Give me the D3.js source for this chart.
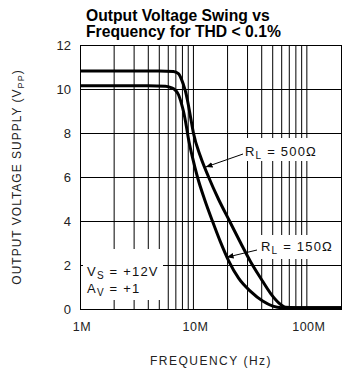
<!DOCTYPE html>
<html>
<head>
<meta charset="utf-8">
<script src="https://cdn.jsdelivr.net/npm/d3@7"></script>
<style>
  body { margin: 0; background: #fff; }
  svg { display: block; }
  text { font-family: "Liberation Sans", Arial, sans-serif; }
</style>
</head>
<body>
<svg id="chart" width="356" height="372"></svg>
<script>
// values (frequency in MHz, swing in Vpp)
const rl500 = [
  [1, 10.82], [5, 10.82], [6.65, 10.8], [7.37, 10.7], [7.83, 10.45], [8.16, 10.2],
  [8.5, 9.9], [8.85, 9.5], [9.41, 8.75], [10, 8.0], [11.5, 6.95], [13.6, 6.0],
  [16.6, 5.0], [20.8, 4.0], [26.1, 3.0], [31.9, 2.15], [39.2, 1.4], [48, 0.7],
  [56.5, 0.28], [65, 0.08], [80, 0.06], [200, 0.06]
];
const rl150 = [
  [1, 10.15], [4, 10.15], [5.65, 10.12], [6.26, 10.07], [6.93, 9.95], [7.37, 9.75],
  [7.83, 9.35], [8.16, 9.0], [8.67, 8.3], [9.03, 7.75], [9.8, 6.9], [10.85, 6.0],
  [12.5, 5.0], [14.7, 4.0], [17.3, 3.05], [20.4, 2.2], [25, 1.4], [31.9, 0.8],
  [40.8, 0.36], [50, 0.13], [60, 0.06], [200, 0.06]
];
const yTicks = [0, 2, 4, 6, 8, 10, 12];
const xTicks = [1, 10, 100];
const xTickLabels = ["1M", "10M", "100M"];
const xGrid = [2, 3, 4, 5, 6, 7, 8, 9, 10, 20, 30, 40, 50, 60, 70, 80, 90, 100];
const yGrid = [2, 4, 6, 8, 10];

const svg = d3.select('#chart');
const pLeft = 80, pRight = 341, pTop = 45, pBottom = 309;

const x = d3.scaleLog().domain([1, 200]).range([pLeft, pRight]);
const y = d3.scaleLinear().domain([0, 12]).range([pBottom, pTop]);

// title
svg.append('text').attr('x', 86).attr('y', 20.5)
    .attr('font-size', 15.7).attr('font-weight', 'bold')
    .text('Output Voltage Swing vs');
svg.append('text').attr('x', 86).attr('y', 37)
    .attr('font-size', 15.7).attr('font-weight', 'bold')
    .text('Frequency for THD < 0.1%');

// grid
const grid = svg.append('g').attr('stroke', '#000').attr('stroke-width', 1);
grid.selectAll('line.v').data(xGrid).enter().append('line')
    .attr('x1', d => x(d)).attr('x2', d => x(d))
    .attr('y1', pTop).attr('y2', pBottom);
grid.selectAll('line.h').data(yGrid).enter().append('line')
    .attr('x1', pLeft).attr('x2', pRight)
    .attr('y1', d => Math.round(y(d)) + 0.5).attr('y2', d => Math.round(y(d)) + 0.5);

// white boxes behind annotations
const boxes = [
  { x: 83, y: 249, w: 80, h: 51 },
  { x: 243, y: 138, w: 84, h: 23 },
  { x: 258, y: 235, w: 82, h: 24 }
];
svg.selectAll('rect.box').data(boxes).enter().append('rect')
    .attr('x', d => d.x).attr('y', d => d.y).attr('width', d => d.w).attr('height', d => d.h)
    .attr('fill', '#fff');

// frame
svg.append('rect').attr('x', pLeft + 0.5).attr('y', pTop + 0.5)
    .attr('width', pRight - pLeft).attr('height', pBottom - pTop)
    .attr('fill', 'none').attr('stroke', '#000').attr('stroke-width', 1);

// curves
const line = d3.line()
    .x(d => x(d[0]))
    .y(d => y(d[1]))
    .curve(d3.curveMonotoneX);

[rl500, rl150].forEach(function(s) {
  svg.append('path').datum(s)
      .attr('d', line)
      .attr('fill', 'none')
      .attr('stroke', '#000')
      .attr('stroke-width', 3);
});

// tick labels
svg.selectAll('text.yt').data(yTicks).enter().append('text')
    .attr('x', 71).attr('y', d => y(d)).attr('dy', '0.36em')
    .attr('text-anchor', 'end').attr('font-size', 13).attr('fill', '#222')
    .text(d => d);
svg.selectAll('text.xt').data(xTicks).enter().append('text')
    .attr('x', d => x(d) + 2).attr('y', 331)
    .attr('text-anchor', 'middle').attr('font-size', 12.5).attr('fill', '#222')
    .attr('letter-spacing', 0.5)
    .text((d, i) => xTickLabels[i]);

// axis titles
const yl = svg.append('text')
    .attr('transform', 'translate(21,177) rotate(-90)')
    .attr('text-anchor', 'middle').attr('font-size', 12).attr('fill', '#222')
    .attr('letter-spacing', 1);
yl.append('tspan').text('OUTPUT VOLTAGE SUPPLY (V');
yl.append('tspan').attr('font-size', 9).attr('dy', 3).text('PP');
yl.append('tspan').attr('dy', -3).text(')');

svg.append('text').attr('x', 211).attr('y', 365)
    .attr('text-anchor', 'middle').attr('font-size', 12).attr('fill', '#222')
    .attr('letter-spacing', 1.5)
    .text('FREQUENCY (Hz)');

// annotations
function subText(px, py, main, sub, rest) {
  const t = svg.append('text').attr('x', px).attr('y', py)
      .attr('font-size', 13).attr('fill', '#111').attr('letter-spacing', 1.2);
  t.append('tspan').text(main);
  t.append('tspan').attr('font-size', 10).attr('dy', 3).text(sub);
  t.append('tspan').attr('dy', -3).text(rest);
}
subText(87, 276, 'V', 'S', ' = +12V');
subText(87, 293, 'A', 'V', ' = +1');
subText(245, 156, 'R', 'L', ' = 500\u03a9');
subText(261, 251, 'R', 'L', ' = 150\u03a9');

svg.append('defs').append('marker')
    .attr('id', 'arr').attr('viewBox', '0 0 10 10')
    .attr('refX', 10).attr('refY', 5)
    .attr('markerWidth', 7).attr('markerHeight', 7)
    .attr('orient', 'auto')
  .append('path').attr('d', 'M0,1L10,5L0,9Z').attr('fill', '#000');

const arrows = [
  { from: [243, 154], to: [x(12.8), y(6.45)] },
  { from: [257, 250], to: [x(19.6), y(2.35)] }
];
svg.selectAll('line.arrow').data(arrows).enter().append('line')
    .attr('x1', d => d.from[0]).attr('y1', d => d.from[1])
    .attr('x2', d => d.to[0]).attr('y2', d => d.to[1])
    .attr('stroke', '#000').attr('stroke-width', 1)
    .attr('marker-end', 'url(#arr)');
</script>
</body>
</html>
